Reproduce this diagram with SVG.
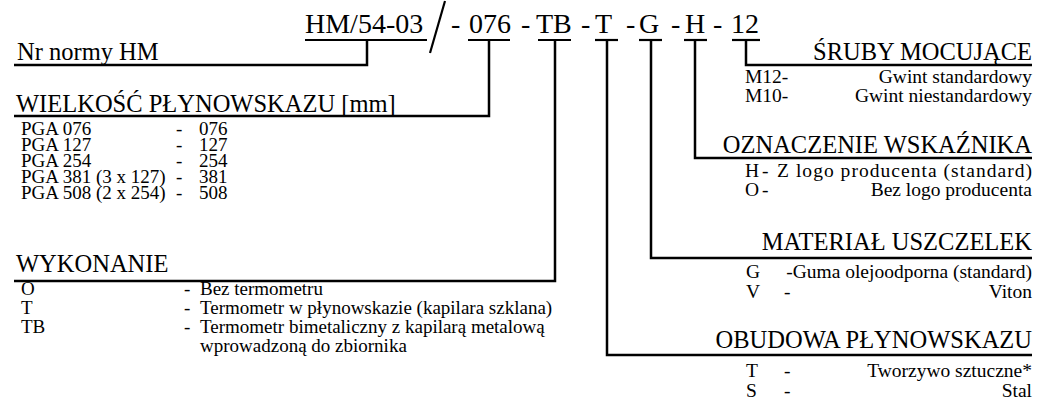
<svg xmlns="http://www.w3.org/2000/svg" width="1045" height="406" viewBox="0 0 1045 406">
<style>
text{font-family:"Liberation Serif","Times New Roman",serif;fill:#000}
.code{font-size:28px}
.head{font-size:24.5px}
.sm{font-size:19px}
.rs{font-size:19.5px}
.end{text-anchor:end}
.ln{fill:none;stroke:#000;stroke-width:2.5;stroke-linejoin:miter}
.ul{fill:none;stroke:#000;stroke-width:2.2}
</style>
<rect width="1045" height="406" fill="#fff"/>
<g id="code">
<text class="code" x="305" y="33">HM/54-03</text>
<line class="ul" x1="305" y1="40" x2="427" y2="40"/>
<line class="ul" x1="430" y1="53" x2="445" y2="1"/>
<text class="code" x="451" y="33">-</text>
<text class="code" x="469" y="33">076</text>
<line class="ul" x1="468" y1="40" x2="510" y2="40"/>
<text class="code" x="521" y="33">-</text>
<text class="code" x="536" y="33">TB</text>
<line class="ul" x1="538" y1="40" x2="571" y2="40"/>
<text class="code" x="581" y="33">-</text>
<text class="code" x="595" y="33">T</text>
<line class="ul" x1="595" y1="40" x2="618" y2="40"/>
<text class="code" x="626" y="33">-</text>
<text class="code" x="639" y="33">G</text>
<line class="ul" x1="639" y1="40" x2="662" y2="40"/>
<text class="code" x="671" y="33">-</text>
<text class="code" x="685" y="33">H</text>
<line class="ul" x1="684" y1="40" x2="707" y2="40"/>
<text class="code" x="713" y="33">-</text>
<text class="code" x="731" y="33">12</text>
<line class="ul" x1="732" y1="40" x2="760" y2="40"/>
</g>
<g id="connectors">
<polyline class="ln" points="367,40 367,65 14,65"/>
<polyline class="ln" points="489,40 489,116 14,116"/>
<polyline class="ln" points="555,40 555,281 14,281"/>
<polyline class="ln" points="607,40 607,355 1032,355"/>
<polyline class="ln" points="651,40 651,258 1032,258"/>
<polyline class="ln" points="695,40 695,158 1032,158"/>
<polyline class="ln" points="746,40 746,65 1032,65"/>
</g>
<g id="nr-normy">
<text class="head" x="17" y="60">Nr normy HM</text>
</g>
<g id="wielkosc">
<text class="head" x="16" y="112">WIELKOŚĆ PŁYNOWSKAZU [mm]</text>
<text class="sm" x="21" y="135">PGA 076</text>
<text class="sm" x="176" y="135">-</text>
<text class="sm" x="199" y="135">076</text>
<text class="sm" x="21" y="151">PGA 127</text>
<text class="sm" x="176" y="151">-</text>
<text class="sm" x="199" y="151">127</text>
<text class="sm" x="21" y="167">PGA 254</text>
<text class="sm" x="176" y="167">-</text>
<text class="sm" x="199" y="167">254</text>
<text class="sm" x="21" y="183">PGA 381 (3 x 127)</text>
<text class="sm" x="176" y="183">-</text>
<text class="sm" x="199" y="183">381</text>
<text class="sm" x="21" y="199">PGA 508 (2 x 254)</text>
<text class="sm" x="176" y="199">-</text>
<text class="sm" x="199" y="199">508</text>
</g>
<g id="wykonanie">
<text class="head" x="16" y="272">WYKONANIE</text>
<text class="sm" x="21" y="295">O</text>
<text class="sm" x="184" y="295">-</text>
<text class="sm" x="200" y="295">Bez termometru</text>
<text class="sm" x="21" y="314">T</text>
<text class="sm" x="184" y="314">-</text>
<text class="sm" x="200" y="314">Termometr w płynowskazie (kapilara szklana)</text>
<text class="sm" x="21" y="333">TB</text>
<text class="sm" x="184" y="333">-</text>
<text class="sm" x="200" y="333">Termometr bimetaliczny z kapilarą metalową</text>
<text class="sm" x="200" y="352">wprowadzoną do zbiornika</text>
</g>
<g id="sruby">
<text class="head end" x="1032" y="60">ŚRUBY MOCUJĄCE</text>
<text class="rs" x="745" y="83">M12-</text>
<text class="rs end" x="1032" y="83">Gwint standardowy</text>
<text class="rs" x="745" y="102">M10-</text>
<text class="rs end" x="1032" y="102">Gwint niestandardowy</text>
</g>
<g id="oznaczenie">
<text class="head end" x="1032" y="153">OZNACZENIE WSKAŹNIKA</text>
<text class="rs" x="745" y="177">H</text>
<text class="rs" x="762" y="177">-</text>
<text class="rs" x="777" y="177" textLength="255" lengthAdjust="spacing">Z logo producenta (standard)</text>
<text class="rs" x="745" y="196">O</text>
<text class="rs" x="762" y="196">-</text>
<text class="rs end" x="1032" y="196">Bez logo producenta</text>
</g>
<g id="material">
<text class="head end" x="1032" y="250">MATERIAŁ USZCZELEK</text>
<text class="rs" x="746" y="278">G</text>
<text class="rs end" x="1032" y="278">-Guma olejoodporna (standard)</text>
<text class="rs" x="746" y="298">V</text>
<text class="rs" x="784" y="298">-</text>
<text class="rs end" x="1032" y="298">Viton</text>
</g>
<g id="obudowa">
<text class="head end" x="1032" y="348">OBUDOWA PŁYNOWSKAZU</text>
<text class="rs" x="746" y="377">T</text>
<text class="rs" x="784" y="377">-</text>
<text class="rs end" x="1032" y="377">Tworzywo sztuczne*</text>
<text class="rs" x="746" y="397">S</text>
<text class="rs" x="784" y="397">-</text>
<text class="rs end" x="1032" y="397">Stal</text>
</g>
</svg>
